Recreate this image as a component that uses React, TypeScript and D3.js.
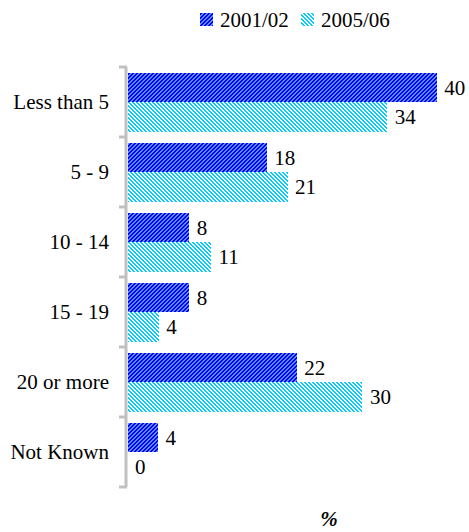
import React from "react";
import * as d3 from "d3";

const categories = ["Less than 5", "5 - 9", "10 - 14", "15 - 19", "20 or more", "Not Known"];
const seriesNames = ["2001/02", "2005/06"];
// Bar lengths (labels show the rounded value)
const values2001 = [40, 18, 8, 8, 21.9, 3.95];
const values2005 = [33.6, 20.7, 10.8, 4.05, 30.4, 0];
const seriesValues = [values2001, values2005];

const W = 469;
const H = 532;
const FONT = '"Liberation Serif"';
const FS = 21;

export default function App() {
  const x = d3.scaleLinear().domain([0, 40]).range([127.5, 436.7]);
  const y = d3.scaleBand<string>().domain(categories).range([67, 487]).padding(0);
  const inner = d3
    .scaleBand<string>()
    .domain(seriesNames)
    .range([5.7, 64.7])
    .padding(0);
  const fills = ["url(#pat1)", "url(#pat2)"];
  const ticks = d3.range(categories.length + 1).map((i) => 67 + i * y.bandwidth());
  const ts = { fontFamily: FONT };
  const fmt = d3.format(".0f");

  return (
    <svg
      width={W}
      height={H}
      style={{ position: "absolute", left: 0, top: 0, background: "#fff" }}
    >
      <defs>
        <pattern id="pat1" patternUnits="userSpaceOnUse" width={4} height={4}>
          <rect width={4} height={4} fill="#0000ff" />
          {[0, 1, 2, 3].map((r) => (
            <g key={r} shapeRendering="crispEdges">
              <rect x={(3 - r + 4) % 4} y={r} width={1} height={1} fill="#5c8dff" />
              <rect x={(4 - r + 4) % 4} y={r} width={1} height={1} fill="#5c8dff" />
            </g>
          ))}
        </pattern>
        <pattern id="pat2" patternUnits="userSpaceOnUse" width={4} height={4}>
          <rect width={4} height={4} fill="#00ccff" />
          {[0, 1, 2, 3].map((r) => (
            <g key={r} shapeRendering="crispEdges">
              <rect x={r % 4} y={r} width={1} height={1} fill="#ffffff" />
              <rect x={(r + 1) % 4} y={r} width={1} height={1} fill="#ffffff" />
            </g>
          ))}
        </pattern>
      </defs>

      {/* Legend */}
      {seriesNames.map((s, i) => {
        const lx = i === 0 ? 200 : 301;
        return (
          <g key={s}>
            <rect x={lx} y={13} width={13} height={13} fill={fills[i]} shapeRendering="crispEdges" />
            <text x={lx + 20} y={26.5} fontSize={FS} fill="#000" style={ts}>
              {s}
            </text>
          </g>
        );
      })}

      {/* Bars */}
      {categories.map((c, ci) =>
        seriesNames.map((s, si) => {
          const v = seriesValues[si][ci];
          const by = (y(c) as number) + (inner(s) as number);
          const bh = inner.bandwidth();
          return (
            <g key={c + s}>
              {v > 0 && (
                <rect
                  x={x(0)}
                  y={by}
                  width={x(v) - x(0)}
                  height={bh}
                  fill={fills[si]}
                  shapeRendering="crispEdges"
                />
              )}
              <text x={x(v) + 7.5} y={by + bh / 2 + 7.5} fontSize={FS} fill="#000" style={ts}>
                {fmt(v)}
              </text>
            </g>
          );
        })
      )}

      {/* Axis */}
      <line x1={126} x2={126} y1={67} y2={487} stroke="#c0c0c0" strokeWidth={3} />
      {ticks.map((t, i) => (
        <line key={i} x1={119} x2={127} y1={t} y2={t} stroke="#c0c0c0" strokeWidth={3} />
      ))}

      {/* Category labels */}
      {categories.map((c) => (
        <text
          key={c}
          x={109}
          y={(y(c) as number) + y.bandwidth() / 2 + 7}
          fontSize={FS}
          textAnchor="end"
          fill="#000"
          style={ts}
        >
          {c}
        </text>
      ))}

      <text
        x={329}
        y={526}
        fontSize={FS}
        fontStyle="italic"
        fontWeight="bold"
        textAnchor="middle"
        style={ts}
      >
        %
      </text>
    </svg>
  );
}
